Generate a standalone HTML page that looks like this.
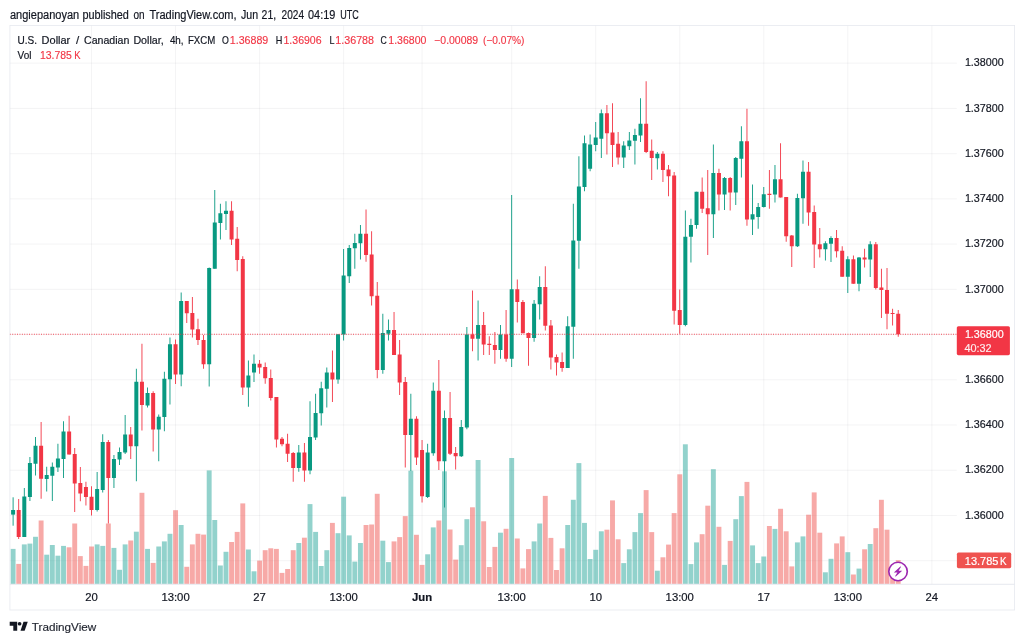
<!DOCTYPE html>
<html lang="en"><head><meta charset="utf-8"><title>USDCAD 4h - TradingView</title>
<style>html,body{margin:0;padding:0;background:#fff}body{width:1024px;height:643px;overflow:hidden}svg{display:block;filter:blur(0.35px)}text{font-family:'Liberation Sans', Arial, sans-serif}</style>
</head><body>
<svg width="1024" height="643" viewBox="0 0 1024 643">
<rect width="1024" height="643" fill="#fff"/>
<g stroke="#2a2e39" stroke-opacity="0.06" stroke-width="0.9">
<line x1="9.9" y1="63.20" x2="956.8" y2="63.20"/>
<line x1="9.9" y1="108.43" x2="956.8" y2="108.43"/>
<line x1="9.9" y1="153.66" x2="956.8" y2="153.66"/>
<line x1="9.9" y1="198.89" x2="956.8" y2="198.89"/>
<line x1="9.9" y1="244.12" x2="956.8" y2="244.12"/>
<line x1="9.9" y1="289.35" x2="956.8" y2="289.35"/>
<line x1="9.9" y1="334.58" x2="956.8" y2="334.58"/>
<line x1="9.9" y1="379.81" x2="956.8" y2="379.81"/>
<line x1="9.9" y1="425.04" x2="956.8" y2="425.04"/>
<line x1="9.9" y1="470.27" x2="956.8" y2="470.27"/>
<line x1="9.9" y1="515.50" x2="956.8" y2="515.50"/>
<line x1="9.9" y1="560.73" x2="956.8" y2="560.73"/>
<line x1="91.53" y1="25.5" x2="91.53" y2="584.3"/>
<line x1="175.56" y1="25.5" x2="175.56" y2="584.3"/>
<line x1="259.59" y1="25.5" x2="259.59" y2="584.3"/>
<line x1="343.62" y1="25.5" x2="343.62" y2="584.3"/>
<line x1="422.05" y1="25.5" x2="422.05" y2="584.3"/>
<line x1="511.68" y1="25.5" x2="511.68" y2="584.3"/>
<line x1="595.71" y1="25.5" x2="595.71" y2="584.3"/>
<line x1="679.74" y1="25.5" x2="679.74" y2="584.3"/>
<line x1="763.77" y1="25.5" x2="763.77" y2="584.3"/>
<line x1="847.80" y1="25.5" x2="847.80" y2="584.3"/>
<line x1="931.83" y1="25.5" x2="931.83" y2="584.3"/>
</g>
<g id="candles">
<rect x="12.65" y="497.30" width="0.9" height="28.40" fill="#089981"/>
<rect x="11.10" y="510.00" width="4.0" height="4.60" fill="#089981"/>
<rect x="18.25" y="499.00" width="0.9" height="40.00" fill="#f23645"/>
<rect x="16.70" y="510.00" width="4.0" height="27.00" fill="#f23645"/>
<rect x="23.85" y="488.00" width="0.9" height="49.00" fill="#089981"/>
<rect x="22.30" y="496.50" width="4.0" height="40.50" fill="#089981"/>
<rect x="29.46" y="457.00" width="0.9" height="44.00" fill="#089981"/>
<rect x="27.91" y="463.00" width="4.0" height="34.00" fill="#089981"/>
<rect x="35.06" y="437.00" width="0.9" height="38.50" fill="#089981"/>
<rect x="33.51" y="445.75" width="4.0" height="18.00" fill="#089981"/>
<rect x="40.66" y="422.00" width="0.9" height="76.75" fill="#f23645"/>
<rect x="39.11" y="445.75" width="4.0" height="33.00" fill="#f23645"/>
<rect x="46.26" y="466.75" width="0.9" height="24.75" fill="#089981"/>
<rect x="44.71" y="475.00" width="4.0" height="4.00" fill="#089981"/>
<rect x="51.86" y="462.50" width="0.9" height="38.50" fill="#089981"/>
<rect x="50.31" y="466.75" width="4.0" height="9.00" fill="#089981"/>
<rect x="57.47" y="443.75" width="0.9" height="28.25" fill="#089981"/>
<rect x="55.92" y="458.50" width="4.0" height="9.00" fill="#089981"/>
<rect x="63.07" y="421.25" width="0.9" height="56.75" fill="#089981"/>
<rect x="61.52" y="431.50" width="4.0" height="27.50" fill="#089981"/>
<rect x="68.67" y="415.75" width="0.9" height="38.75" fill="#f23645"/>
<rect x="67.12" y="431.50" width="4.0" height="23.00" fill="#f23645"/>
<rect x="74.27" y="448.00" width="0.9" height="64.00" fill="#f23645"/>
<rect x="72.72" y="454.00" width="4.0" height="29.50" fill="#f23645"/>
<rect x="79.87" y="467.00" width="0.9" height="34.25" fill="#f23645"/>
<rect x="78.32" y="483.00" width="4.0" height="10.50" fill="#f23645"/>
<rect x="85.48" y="481.75" width="0.9" height="23.75" fill="#f23645"/>
<rect x="83.93" y="487.00" width="4.0" height="10.00" fill="#f23645"/>
<rect x="91.08" y="486.25" width="0.9" height="29.25" fill="#f23645"/>
<rect x="89.53" y="496.75" width="4.0" height="13.25" fill="#f23645"/>
<rect x="96.68" y="472.00" width="0.9" height="39.50" fill="#089981"/>
<rect x="95.13" y="489.00" width="4.0" height="21.00" fill="#089981"/>
<rect x="102.28" y="434.25" width="0.9" height="58.25" fill="#089981"/>
<rect x="100.73" y="442.00" width="4.0" height="48.00" fill="#089981"/>
<rect x="107.88" y="440.00" width="0.9" height="83.50" fill="#f23645"/>
<rect x="106.33" y="442.00" width="4.0" height="36.00" fill="#f23645"/>
<rect x="113.49" y="455.00" width="0.9" height="33.00" fill="#089981"/>
<rect x="111.94" y="459.00" width="4.0" height="19.00" fill="#089981"/>
<rect x="119.09" y="447.50" width="0.9" height="17.50" fill="#089981"/>
<rect x="117.54" y="452.00" width="4.0" height="7.50" fill="#089981"/>
<rect x="124.69" y="415.00" width="0.9" height="39.00" fill="#089981"/>
<rect x="123.14" y="434.50" width="4.0" height="18.00" fill="#089981"/>
<rect x="130.29" y="427.00" width="0.9" height="32.00" fill="#f23645"/>
<rect x="128.74" y="434.50" width="4.0" height="11.75" fill="#f23645"/>
<rect x="135.89" y="368.75" width="0.9" height="112.50" fill="#089981"/>
<rect x="134.34" y="381.75" width="4.0" height="64.50" fill="#089981"/>
<rect x="141.50" y="343.75" width="0.9" height="86.75" fill="#f23645"/>
<rect x="139.95" y="381.75" width="4.0" height="23.25" fill="#f23645"/>
<rect x="147.10" y="387.50" width="0.9" height="20.00" fill="#089981"/>
<rect x="145.55" y="393.00" width="4.0" height="12.50" fill="#089981"/>
<rect x="152.70" y="391.25" width="0.9" height="60.25" fill="#f23645"/>
<rect x="151.15" y="393.00" width="4.0" height="36.50" fill="#f23645"/>
<rect x="158.30" y="414.50" width="0.9" height="46.75" fill="#089981"/>
<rect x="156.75" y="416.75" width="4.0" height="12.75" fill="#089981"/>
<rect x="163.90" y="371.75" width="0.9" height="59.50" fill="#089981"/>
<rect x="162.35" y="378.75" width="4.0" height="38.25" fill="#089981"/>
<rect x="169.51" y="337.50" width="0.9" height="67.00" fill="#089981"/>
<rect x="167.96" y="344.25" width="4.0" height="35.00" fill="#089981"/>
<rect x="175.11" y="339.50" width="0.9" height="44.50" fill="#f23645"/>
<rect x="173.56" y="344.25" width="4.0" height="30.25" fill="#f23645"/>
<rect x="180.71" y="292.50" width="0.9" height="93.75" fill="#089981"/>
<rect x="179.16" y="301.00" width="4.0" height="73.50" fill="#089981"/>
<rect x="186.31" y="301.00" width="0.9" height="22.00" fill="#f23645"/>
<rect x="184.76" y="301.00" width="4.0" height="12.25" fill="#f23645"/>
<rect x="191.91" y="297.00" width="0.9" height="40.50" fill="#f23645"/>
<rect x="190.36" y="313.00" width="4.0" height="16.50" fill="#f23645"/>
<rect x="197.52" y="318.75" width="0.9" height="26.25" fill="#f23645"/>
<rect x="195.97" y="329.25" width="4.0" height="10.75" fill="#f23645"/>
<rect x="203.12" y="335.00" width="0.9" height="33.75" fill="#f23645"/>
<rect x="201.57" y="340.00" width="4.0" height="24.25" fill="#f23645"/>
<rect x="208.72" y="267.50" width="0.9" height="119.00" fill="#089981"/>
<rect x="207.17" y="268.00" width="4.0" height="96.25" fill="#089981"/>
<rect x="214.32" y="190.00" width="0.9" height="78.75" fill="#089981"/>
<rect x="212.77" y="222.50" width="4.0" height="46.25" fill="#089981"/>
<rect x="219.92" y="203.75" width="0.9" height="35.75" fill="#089981"/>
<rect x="218.37" y="213.25" width="4.0" height="9.75" fill="#089981"/>
<rect x="225.53" y="201.25" width="0.9" height="28.75" fill="#089981"/>
<rect x="223.98" y="210.75" width="4.0" height="3.25" fill="#089981"/>
<rect x="231.13" y="201.25" width="0.9" height="43.75" fill="#f23645"/>
<rect x="229.58" y="210.75" width="4.0" height="28.75" fill="#f23645"/>
<rect x="236.73" y="227.00" width="0.9" height="44.25" fill="#f23645"/>
<rect x="235.18" y="238.75" width="4.0" height="21.25" fill="#f23645"/>
<rect x="242.33" y="256.25" width="0.9" height="138.75" fill="#f23645"/>
<rect x="240.78" y="259.00" width="4.0" height="128.50" fill="#f23645"/>
<rect x="247.93" y="360.50" width="0.9" height="46.25" fill="#089981"/>
<rect x="246.38" y="375.50" width="4.0" height="12.00" fill="#089981"/>
<rect x="253.54" y="354.50" width="0.9" height="27.50" fill="#089981"/>
<rect x="251.99" y="363.75" width="4.0" height="8.75" fill="#089981"/>
<rect x="259.14" y="360.00" width="0.9" height="13.75" fill="#f23645"/>
<rect x="257.59" y="363.75" width="4.0" height="3.75" fill="#f23645"/>
<rect x="264.74" y="362.50" width="0.9" height="21.25" fill="#f23645"/>
<rect x="263.19" y="367.00" width="4.0" height="11.25" fill="#f23645"/>
<rect x="270.34" y="369.50" width="0.9" height="31.00" fill="#f23645"/>
<rect x="268.79" y="378.00" width="4.0" height="20.00" fill="#f23645"/>
<rect x="275.94" y="397.00" width="0.9" height="50.50" fill="#f23645"/>
<rect x="274.39" y="397.00" width="4.0" height="42.50" fill="#f23645"/>
<rect x="281.55" y="437.00" width="0.9" height="9.25" fill="#f23645"/>
<rect x="280.00" y="438.75" width="4.0" height="5.50" fill="#f23645"/>
<rect x="287.15" y="433.75" width="0.9" height="28.25" fill="#f23645"/>
<rect x="285.60" y="443.75" width="4.0" height="10.00" fill="#f23645"/>
<rect x="292.75" y="452.00" width="0.9" height="29.75" fill="#f23645"/>
<rect x="291.20" y="453.00" width="4.0" height="15.00" fill="#f23645"/>
<rect x="298.35" y="445.00" width="0.9" height="26.75" fill="#089981"/>
<rect x="296.80" y="452.50" width="4.0" height="15.50" fill="#089981"/>
<rect x="303.95" y="443.00" width="0.9" height="38.75" fill="#f23645"/>
<rect x="302.40" y="452.50" width="4.0" height="18.00" fill="#f23645"/>
<rect x="309.56" y="401.25" width="0.9" height="73.00" fill="#089981"/>
<rect x="308.01" y="437.00" width="4.0" height="33.50" fill="#089981"/>
<rect x="315.16" y="393.75" width="0.9" height="46.25" fill="#089981"/>
<rect x="313.61" y="413.00" width="4.0" height="24.50" fill="#089981"/>
<rect x="320.76" y="381.75" width="0.9" height="43.75" fill="#089981"/>
<rect x="319.21" y="388.25" width="4.0" height="25.00" fill="#089981"/>
<rect x="326.36" y="367.50" width="0.9" height="40.00" fill="#089981"/>
<rect x="324.81" y="372.50" width="4.0" height="16.25" fill="#089981"/>
<rect x="331.96" y="350.50" width="0.9" height="51.50" fill="#f23645"/>
<rect x="330.41" y="372.50" width="4.0" height="7.00" fill="#f23645"/>
<rect x="337.57" y="334.25" width="0.9" height="49.50" fill="#089981"/>
<rect x="336.02" y="334.25" width="4.0" height="45.25" fill="#089981"/>
<rect x="343.17" y="249.00" width="0.9" height="91.50" fill="#089981"/>
<rect x="341.62" y="275.50" width="4.0" height="59.00" fill="#089981"/>
<rect x="348.77" y="245.00" width="0.9" height="38.00" fill="#089981"/>
<rect x="347.22" y="248.00" width="4.0" height="28.25" fill="#089981"/>
<rect x="354.37" y="233.75" width="0.9" height="35.00" fill="#089981"/>
<rect x="352.82" y="243.00" width="4.0" height="5.25" fill="#089981"/>
<rect x="359.97" y="225.00" width="0.9" height="34.50" fill="#089981"/>
<rect x="358.42" y="233.75" width="4.0" height="9.50" fill="#089981"/>
<rect x="365.58" y="209.50" width="0.9" height="52.25" fill="#f23645"/>
<rect x="364.03" y="233.75" width="4.0" height="21.25" fill="#f23645"/>
<rect x="371.18" y="231.25" width="0.9" height="74.25" fill="#f23645"/>
<rect x="369.63" y="254.50" width="4.0" height="41.75" fill="#f23645"/>
<rect x="376.78" y="282.00" width="0.9" height="96.25" fill="#f23645"/>
<rect x="375.23" y="295.75" width="4.0" height="74.25" fill="#f23645"/>
<rect x="382.38" y="313.75" width="0.9" height="60.00" fill="#089981"/>
<rect x="380.83" y="333.00" width="4.0" height="37.00" fill="#089981"/>
<rect x="387.98" y="319.50" width="0.9" height="21.00" fill="#089981"/>
<rect x="386.43" y="330.00" width="4.0" height="3.75" fill="#089981"/>
<rect x="393.59" y="312.00" width="0.9" height="43.00" fill="#f23645"/>
<rect x="392.04" y="330.00" width="4.0" height="25.00" fill="#f23645"/>
<rect x="399.19" y="340.00" width="0.9" height="55.00" fill="#f23645"/>
<rect x="397.64" y="354.50" width="4.0" height="28.00" fill="#f23645"/>
<rect x="404.79" y="377.00" width="0.9" height="90.50" fill="#f23645"/>
<rect x="403.24" y="382.00" width="4.0" height="53.00" fill="#f23645"/>
<rect x="410.39" y="393.75" width="0.9" height="77.25" fill="#089981"/>
<rect x="408.84" y="418.75" width="4.0" height="16.25" fill="#089981"/>
<rect x="415.99" y="416.25" width="0.9" height="48.75" fill="#f23645"/>
<rect x="414.44" y="418.75" width="4.0" height="38.75" fill="#f23645"/>
<rect x="421.60" y="440.00" width="0.9" height="62.50" fill="#f23645"/>
<rect x="420.05" y="450.00" width="4.0" height="46.25" fill="#f23645"/>
<rect x="427.20" y="443.75" width="0.9" height="54.25" fill="#089981"/>
<rect x="425.65" y="452.50" width="4.0" height="44.50" fill="#089981"/>
<rect x="432.80" y="382.50" width="0.9" height="73.25" fill="#089981"/>
<rect x="431.25" y="390.75" width="4.0" height="62.50" fill="#089981"/>
<rect x="438.40" y="360.00" width="0.9" height="110.00" fill="#f23645"/>
<rect x="436.85" y="390.75" width="4.0" height="70.50" fill="#f23645"/>
<rect x="444.00" y="410.50" width="0.9" height="97.00" fill="#089981"/>
<rect x="442.45" y="418.00" width="4.0" height="43.25" fill="#089981"/>
<rect x="449.61" y="392.00" width="0.9" height="63.00" fill="#f23645"/>
<rect x="448.06" y="418.00" width="4.0" height="35.75" fill="#f23645"/>
<rect x="455.21" y="447.00" width="0.9" height="22.50" fill="#f23645"/>
<rect x="453.66" y="453.00" width="4.0" height="3.25" fill="#f23645"/>
<rect x="460.81" y="420.00" width="0.9" height="37.00" fill="#089981"/>
<rect x="459.26" y="427.00" width="4.0" height="29.25" fill="#089981"/>
<rect x="466.41" y="327.00" width="0.9" height="102.25" fill="#089981"/>
<rect x="464.86" y="334.50" width="4.0" height="93.00" fill="#089981"/>
<rect x="472.01" y="290.50" width="0.9" height="60.75" fill="#f23645"/>
<rect x="470.46" y="334.50" width="4.0" height="4.25" fill="#f23645"/>
<rect x="477.62" y="300.50" width="0.9" height="60.00" fill="#089981"/>
<rect x="476.07" y="325.00" width="4.0" height="13.75" fill="#089981"/>
<rect x="483.22" y="312.00" width="0.9" height="43.00" fill="#f23645"/>
<rect x="481.67" y="325.00" width="4.0" height="19.50" fill="#f23645"/>
<rect x="488.82" y="336.25" width="0.9" height="18.75" fill="#f23645"/>
<rect x="487.27" y="343.75" width="4.0" height="1.25" fill="#f23645"/>
<rect x="494.42" y="332.00" width="0.9" height="31.75" fill="#f23645"/>
<rect x="492.87" y="345.00" width="4.0" height="5.00" fill="#f23645"/>
<rect x="500.02" y="325.00" width="0.9" height="33.75" fill="#089981"/>
<rect x="498.47" y="334.50" width="4.0" height="15.50" fill="#089981"/>
<rect x="505.63" y="310.00" width="0.9" height="51.75" fill="#f23645"/>
<rect x="504.08" y="334.50" width="4.0" height="24.25" fill="#f23645"/>
<rect x="511.23" y="195.00" width="0.9" height="172.00" fill="#089981"/>
<rect x="509.68" y="289.25" width="4.0" height="69.50" fill="#089981"/>
<rect x="516.83" y="279.50" width="0.9" height="43.00" fill="#f23645"/>
<rect x="515.28" y="289.25" width="4.0" height="12.75" fill="#f23645"/>
<rect x="522.43" y="300.00" width="0.9" height="33.25" fill="#f23645"/>
<rect x="520.88" y="302.00" width="4.0" height="31.25" fill="#f23645"/>
<rect x="528.03" y="332.50" width="0.9" height="33.25" fill="#f23645"/>
<rect x="526.48" y="333.00" width="4.0" height="5.00" fill="#f23645"/>
<rect x="533.64" y="300.00" width="0.9" height="41.75" fill="#089981"/>
<rect x="532.09" y="303.75" width="4.0" height="34.25" fill="#089981"/>
<rect x="539.24" y="276.25" width="0.9" height="43.25" fill="#089981"/>
<rect x="537.69" y="287.00" width="4.0" height="17.25" fill="#089981"/>
<rect x="544.84" y="266.25" width="0.9" height="64.25" fill="#f23645"/>
<rect x="543.29" y="287.00" width="4.0" height="38.75" fill="#f23645"/>
<rect x="550.44" y="320.00" width="0.9" height="49.50" fill="#f23645"/>
<rect x="548.89" y="325.50" width="4.0" height="32.00" fill="#f23645"/>
<rect x="556.04" y="354.50" width="0.9" height="21.00" fill="#f23645"/>
<rect x="554.49" y="357.00" width="4.0" height="5.50" fill="#f23645"/>
<rect x="561.65" y="352.50" width="0.9" height="19.25" fill="#f23645"/>
<rect x="560.10" y="362.00" width="4.0" height="6.00" fill="#f23645"/>
<rect x="567.25" y="316.25" width="0.9" height="51.75" fill="#089981"/>
<rect x="565.70" y="326.25" width="4.0" height="41.75" fill="#089981"/>
<rect x="572.85" y="203.75" width="0.9" height="155.00" fill="#089981"/>
<rect x="571.30" y="240.50" width="4.0" height="86.25" fill="#089981"/>
<rect x="578.45" y="156.25" width="0.9" height="112.50" fill="#089981"/>
<rect x="576.90" y="186.50" width="4.0" height="54.25" fill="#089981"/>
<rect x="584.05" y="135.50" width="0.9" height="55.75" fill="#089981"/>
<rect x="582.50" y="143.25" width="4.0" height="43.75" fill="#089981"/>
<rect x="589.66" y="134.50" width="0.9" height="36.75" fill="#089981"/>
<rect x="588.11" y="144.50" width="4.0" height="24.25" fill="#089981"/>
<rect x="595.26" y="122.00" width="0.9" height="29.25" fill="#089981"/>
<rect x="593.71" y="137.50" width="4.0" height="7.50" fill="#089981"/>
<rect x="600.86" y="109.50" width="0.9" height="48.50" fill="#089981"/>
<rect x="599.31" y="113.25" width="4.0" height="25.50" fill="#089981"/>
<rect x="606.46" y="105.00" width="0.9" height="49.50" fill="#f23645"/>
<rect x="604.91" y="113.25" width="4.0" height="20.00" fill="#f23645"/>
<rect x="612.06" y="103.25" width="0.9" height="63.75" fill="#f23645"/>
<rect x="610.51" y="132.50" width="4.0" height="12.50" fill="#f23645"/>
<rect x="617.67" y="132.00" width="0.9" height="32.50" fill="#f23645"/>
<rect x="616.12" y="143.75" width="4.0" height="13.75" fill="#f23645"/>
<rect x="623.27" y="141.25" width="0.9" height="26.75" fill="#089981"/>
<rect x="621.72" y="145.50" width="4.0" height="12.00" fill="#089981"/>
<rect x="628.87" y="132.00" width="0.9" height="18.00" fill="#089981"/>
<rect x="627.32" y="140.50" width="4.0" height="5.75" fill="#089981"/>
<rect x="634.47" y="128.75" width="0.9" height="35.75" fill="#089981"/>
<rect x="632.92" y="135.00" width="4.0" height="5.75" fill="#089981"/>
<rect x="640.07" y="98.25" width="0.9" height="43.75" fill="#089981"/>
<rect x="638.52" y="123.75" width="4.0" height="11.75" fill="#089981"/>
<rect x="645.68" y="81.25" width="0.9" height="71.75" fill="#f23645"/>
<rect x="644.13" y="123.75" width="4.0" height="28.25" fill="#f23645"/>
<rect x="651.28" y="139.50" width="0.9" height="40.50" fill="#f23645"/>
<rect x="649.73" y="150.75" width="4.0" height="7.25" fill="#f23645"/>
<rect x="656.88" y="152.00" width="0.9" height="17.50" fill="#089981"/>
<rect x="655.33" y="153.75" width="4.0" height="4.50" fill="#089981"/>
<rect x="662.48" y="151.25" width="0.9" height="30.75" fill="#f23645"/>
<rect x="660.93" y="153.75" width="4.0" height="16.25" fill="#f23645"/>
<rect x="668.08" y="165.00" width="0.9" height="31.25" fill="#f23645"/>
<rect x="666.53" y="169.50" width="4.0" height="6.75" fill="#f23645"/>
<rect x="673.69" y="172.00" width="0.9" height="152.50" fill="#f23645"/>
<rect x="672.14" y="175.50" width="4.0" height="135.25" fill="#f23645"/>
<rect x="679.29" y="289.50" width="0.9" height="44.25" fill="#f23645"/>
<rect x="677.74" y="310.00" width="4.0" height="15.00" fill="#f23645"/>
<rect x="684.89" y="210.50" width="0.9" height="115.75" fill="#089981"/>
<rect x="683.34" y="236.75" width="4.0" height="88.25" fill="#089981"/>
<rect x="690.49" y="218.75" width="0.9" height="43.75" fill="#089981"/>
<rect x="688.94" y="225.00" width="4.0" height="11.75" fill="#089981"/>
<rect x="696.09" y="191.75" width="0.9" height="37.00" fill="#089981"/>
<rect x="694.54" y="191.75" width="4.0" height="33.25" fill="#089981"/>
<rect x="701.70" y="177.50" width="0.9" height="35.50" fill="#f23645"/>
<rect x="700.15" y="191.75" width="4.0" height="17.00" fill="#f23645"/>
<rect x="707.30" y="170.00" width="0.9" height="85.00" fill="#f23645"/>
<rect x="705.75" y="208.25" width="4.0" height="6.00" fill="#f23645"/>
<rect x="712.90" y="144.50" width="0.9" height="93.50" fill="#089981"/>
<rect x="711.35" y="173.00" width="4.0" height="41.25" fill="#089981"/>
<rect x="718.50" y="168.75" width="0.9" height="41.75" fill="#f23645"/>
<rect x="716.95" y="173.00" width="4.0" height="21.50" fill="#f23645"/>
<rect x="724.10" y="177.00" width="0.9" height="33.00" fill="#089981"/>
<rect x="722.55" y="178.00" width="4.0" height="16.50" fill="#089981"/>
<rect x="729.71" y="177.00" width="0.9" height="33.50" fill="#f23645"/>
<rect x="728.16" y="178.00" width="4.0" height="14.50" fill="#f23645"/>
<rect x="735.31" y="157.00" width="0.9" height="48.00" fill="#089981"/>
<rect x="733.76" y="158.00" width="4.0" height="34.50" fill="#089981"/>
<rect x="740.91" y="126.25" width="0.9" height="51.25" fill="#089981"/>
<rect x="739.36" y="141.25" width="4.0" height="17.50" fill="#089981"/>
<rect x="746.51" y="108.75" width="0.9" height="117.00" fill="#f23645"/>
<rect x="744.96" y="141.25" width="4.0" height="78.25" fill="#f23645"/>
<rect x="752.11" y="184.50" width="0.9" height="50.50" fill="#089981"/>
<rect x="750.56" y="214.25" width="4.0" height="5.25" fill="#089981"/>
<rect x="757.72" y="203.00" width="0.9" height="25.75" fill="#089981"/>
<rect x="756.17" y="207.00" width="4.0" height="10.00" fill="#089981"/>
<rect x="763.32" y="187.00" width="0.9" height="20.50" fill="#089981"/>
<rect x="761.77" y="194.25" width="4.0" height="12.75" fill="#089981"/>
<rect x="768.92" y="170.00" width="0.9" height="38.75" fill="#f23645"/>
<rect x="767.37" y="193.75" width="4.0" height="1.25" fill="#f23645"/>
<rect x="774.52" y="165.00" width="0.9" height="37.50" fill="#089981"/>
<rect x="772.97" y="179.25" width="4.0" height="15.25" fill="#089981"/>
<rect x="780.12" y="143.25" width="0.9" height="54.25" fill="#f23645"/>
<rect x="778.57" y="179.25" width="4.0" height="18.25" fill="#f23645"/>
<rect x="785.73" y="197.00" width="0.9" height="44.75" fill="#f23645"/>
<rect x="784.18" y="197.00" width="4.0" height="39.25" fill="#f23645"/>
<rect x="791.33" y="235.00" width="0.9" height="32.00" fill="#f23645"/>
<rect x="789.78" y="235.50" width="4.0" height="10.75" fill="#f23645"/>
<rect x="796.93" y="193.75" width="0.9" height="53.25" fill="#089981"/>
<rect x="795.38" y="198.00" width="4.0" height="48.25" fill="#089981"/>
<rect x="802.53" y="160.50" width="0.9" height="63.25" fill="#089981"/>
<rect x="800.98" y="171.75" width="4.0" height="26.50" fill="#089981"/>
<rect x="808.13" y="162.00" width="0.9" height="63.75" fill="#f23645"/>
<rect x="806.58" y="171.75" width="4.0" height="40.75" fill="#f23645"/>
<rect x="813.74" y="205.50" width="0.9" height="62.50" fill="#f23645"/>
<rect x="812.19" y="212.00" width="4.0" height="32.50" fill="#f23645"/>
<rect x="819.34" y="228.00" width="0.9" height="29.50" fill="#f23645"/>
<rect x="817.79" y="244.25" width="4.0" height="5.00" fill="#f23645"/>
<rect x="824.94" y="241.25" width="0.9" height="19.25" fill="#089981"/>
<rect x="823.39" y="243.25" width="4.0" height="6.00" fill="#089981"/>
<rect x="830.54" y="236.25" width="0.9" height="25.75" fill="#089981"/>
<rect x="828.99" y="238.00" width="4.0" height="5.75" fill="#089981"/>
<rect x="836.14" y="230.00" width="0.9" height="27.50" fill="#f23645"/>
<rect x="834.59" y="238.00" width="4.0" height="13.25" fill="#f23645"/>
<rect x="841.75" y="246.25" width="0.9" height="30.50" fill="#f23645"/>
<rect x="840.20" y="250.75" width="4.0" height="26.00" fill="#f23645"/>
<rect x="847.35" y="256.25" width="0.9" height="36.75" fill="#089981"/>
<rect x="845.80" y="259.25" width="4.0" height="17.50" fill="#089981"/>
<rect x="852.95" y="255.50" width="0.9" height="28.25" fill="#f23645"/>
<rect x="851.40" y="259.25" width="4.0" height="24.50" fill="#f23645"/>
<rect x="858.55" y="257.00" width="0.9" height="34.25" fill="#089981"/>
<rect x="857.00" y="257.50" width="4.0" height="26.25" fill="#089981"/>
<rect x="864.15" y="248.75" width="0.9" height="18.75" fill="#f23645"/>
<rect x="862.60" y="257.50" width="4.0" height="2.00" fill="#f23645"/>
<rect x="869.76" y="241.25" width="0.9" height="35.75" fill="#089981"/>
<rect x="868.21" y="244.25" width="4.0" height="15.25" fill="#089981"/>
<rect x="875.36" y="242.00" width="0.9" height="47.50" fill="#f23645"/>
<rect x="873.81" y="244.25" width="4.0" height="43.75" fill="#f23645"/>
<rect x="880.96" y="268.75" width="0.9" height="49.25" fill="#f23645"/>
<rect x="879.41" y="287.50" width="4.0" height="2.50" fill="#f23645"/>
<rect x="886.56" y="268.00" width="0.9" height="61.25" fill="#f23645"/>
<rect x="885.01" y="290.00" width="4.0" height="23.75" fill="#f23645"/>
<rect x="892.16" y="308.75" width="0.9" height="16.75" fill="#f23645"/>
<rect x="890.61" y="313.00" width="4.0" height="1.00" fill="#f23645"/>
<rect x="897.77" y="310.00" width="0.9" height="26.75" fill="#f23645"/>
<rect x="896.22" y="313.75" width="4.0" height="20.50" fill="#f23645"/>
</g>
<g id="volume" fill-opacity="0.5">
<rect x="10.65" y="548.90" width="4.9" height="35.00" fill="#26a69a"/>
<rect x="16.25" y="563.90" width="4.9" height="20.00" fill="#ef5350"/>
<rect x="21.85" y="544.40" width="4.9" height="39.50" fill="#26a69a"/>
<rect x="27.46" y="543.60" width="4.9" height="40.30" fill="#26a69a"/>
<rect x="33.06" y="536.80" width="4.9" height="47.10" fill="#26a69a"/>
<rect x="38.66" y="520.50" width="4.9" height="63.40" fill="#ef5350"/>
<rect x="44.26" y="554.70" width="4.9" height="29.20" fill="#26a69a"/>
<rect x="49.86" y="545.00" width="4.9" height="38.90" fill="#26a69a"/>
<rect x="55.47" y="555.70" width="4.9" height="28.20" fill="#26a69a"/>
<rect x="61.07" y="545.90" width="4.9" height="38.00" fill="#26a69a"/>
<rect x="66.67" y="547.30" width="4.9" height="36.60" fill="#ef5350"/>
<rect x="72.27" y="523.50" width="4.9" height="60.40" fill="#ef5350"/>
<rect x="77.87" y="556.10" width="4.9" height="27.80" fill="#ef5350"/>
<rect x="83.48" y="565.90" width="4.9" height="18.00" fill="#ef5350"/>
<rect x="89.08" y="546.50" width="4.9" height="37.40" fill="#ef5350"/>
<rect x="94.68" y="544.40" width="4.9" height="39.50" fill="#26a69a"/>
<rect x="100.28" y="545.90" width="4.9" height="38.00" fill="#26a69a"/>
<rect x="105.88" y="523.50" width="4.9" height="60.40" fill="#ef5350"/>
<rect x="111.49" y="547.90" width="4.9" height="36.00" fill="#26a69a"/>
<rect x="117.09" y="569.80" width="4.9" height="14.10" fill="#26a69a"/>
<rect x="122.69" y="544.40" width="4.9" height="39.50" fill="#26a69a"/>
<rect x="128.29" y="540.50" width="4.9" height="43.40" fill="#ef5350"/>
<rect x="133.89" y="531.70" width="4.9" height="52.20" fill="#26a69a"/>
<rect x="139.50" y="492.80" width="4.9" height="91.10" fill="#ef5350"/>
<rect x="145.10" y="548.90" width="4.9" height="35.00" fill="#26a69a"/>
<rect x="150.70" y="562.90" width="4.9" height="21.00" fill="#ef5350"/>
<rect x="156.30" y="546.50" width="4.9" height="37.40" fill="#26a69a"/>
<rect x="161.90" y="541.40" width="4.9" height="42.50" fill="#26a69a"/>
<rect x="167.51" y="533.80" width="4.9" height="50.10" fill="#26a69a"/>
<rect x="173.11" y="510.20" width="4.9" height="73.70" fill="#ef5350"/>
<rect x="178.71" y="525.00" width="4.9" height="58.90" fill="#26a69a"/>
<rect x="184.31" y="566.80" width="4.9" height="17.10" fill="#ef5350"/>
<rect x="189.91" y="544.40" width="4.9" height="39.50" fill="#ef5350"/>
<rect x="195.52" y="533.80" width="4.9" height="50.10" fill="#ef5350"/>
<rect x="201.12" y="534.60" width="4.9" height="49.30" fill="#ef5350"/>
<rect x="206.72" y="470.40" width="4.9" height="113.50" fill="#26a69a"/>
<rect x="212.32" y="520.00" width="4.9" height="63.90" fill="#26a69a"/>
<rect x="217.92" y="565.50" width="4.9" height="18.40" fill="#26a69a"/>
<rect x="223.53" y="551.80" width="4.9" height="32.10" fill="#26a69a"/>
<rect x="229.13" y="542.00" width="4.9" height="41.90" fill="#ef5350"/>
<rect x="234.73" y="531.90" width="4.9" height="52.00" fill="#ef5350"/>
<rect x="240.33" y="503.40" width="4.9" height="80.50" fill="#ef5350"/>
<rect x="245.93" y="549.50" width="4.9" height="34.40" fill="#26a69a"/>
<rect x="251.54" y="571.30" width="4.9" height="12.60" fill="#26a69a"/>
<rect x="257.14" y="560.60" width="4.9" height="23.30" fill="#ef5350"/>
<rect x="262.74" y="550.20" width="4.9" height="33.70" fill="#ef5350"/>
<rect x="268.34" y="548.30" width="4.9" height="35.60" fill="#ef5350"/>
<rect x="273.94" y="548.90" width="4.9" height="35.00" fill="#ef5350"/>
<rect x="279.55" y="572.90" width="4.9" height="11.00" fill="#ef5350"/>
<rect x="285.15" y="569.00" width="4.9" height="14.90" fill="#ef5350"/>
<rect x="290.75" y="550.20" width="4.9" height="33.70" fill="#ef5350"/>
<rect x="296.35" y="543.00" width="4.9" height="40.90" fill="#26a69a"/>
<rect x="301.95" y="537.70" width="4.9" height="46.20" fill="#ef5350"/>
<rect x="307.56" y="504.10" width="4.9" height="79.80" fill="#26a69a"/>
<rect x="313.16" y="531.90" width="4.9" height="52.00" fill="#26a69a"/>
<rect x="318.76" y="566.00" width="4.9" height="17.90" fill="#26a69a"/>
<rect x="324.36" y="550.20" width="4.9" height="33.70" fill="#26a69a"/>
<rect x="329.96" y="522.90" width="4.9" height="61.00" fill="#ef5350"/>
<rect x="335.57" y="533.20" width="4.9" height="50.70" fill="#26a69a"/>
<rect x="341.17" y="496.70" width="4.9" height="87.20" fill="#26a69a"/>
<rect x="346.77" y="535.40" width="4.9" height="48.50" fill="#26a69a"/>
<rect x="352.37" y="561.60" width="4.9" height="22.30" fill="#26a69a"/>
<rect x="357.97" y="543.00" width="4.9" height="40.90" fill="#26a69a"/>
<rect x="363.58" y="525.00" width="4.9" height="58.90" fill="#ef5350"/>
<rect x="369.18" y="524.50" width="4.9" height="59.40" fill="#ef5350"/>
<rect x="374.78" y="493.80" width="4.9" height="90.10" fill="#ef5350"/>
<rect x="380.38" y="540.70" width="4.9" height="43.20" fill="#26a69a"/>
<rect x="385.98" y="562.10" width="4.9" height="21.80" fill="#26a69a"/>
<rect x="391.59" y="541.40" width="4.9" height="42.50" fill="#ef5350"/>
<rect x="397.19" y="537.10" width="4.9" height="46.80" fill="#ef5350"/>
<rect x="402.79" y="516.10" width="4.9" height="67.80" fill="#ef5350"/>
<rect x="408.39" y="470.70" width="4.9" height="113.20" fill="#26a69a"/>
<rect x="413.99" y="534.80" width="4.9" height="49.10" fill="#ef5350"/>
<rect x="419.60" y="564.90" width="4.9" height="19.00" fill="#ef5350"/>
<rect x="425.20" y="554.30" width="4.9" height="29.60" fill="#26a69a"/>
<rect x="430.80" y="527.40" width="4.9" height="56.50" fill="#26a69a"/>
<rect x="436.40" y="520.50" width="4.9" height="63.40" fill="#ef5350"/>
<rect x="442.00" y="471.30" width="4.9" height="112.60" fill="#26a69a"/>
<rect x="447.61" y="529.50" width="4.9" height="54.40" fill="#ef5350"/>
<rect x="453.21" y="559.60" width="4.9" height="24.30" fill="#ef5350"/>
<rect x="458.81" y="545.20" width="4.9" height="38.70" fill="#26a69a"/>
<rect x="464.41" y="519.20" width="4.9" height="64.70" fill="#26a69a"/>
<rect x="470.01" y="507.30" width="4.9" height="76.60" fill="#ef5350"/>
<rect x="475.62" y="460.00" width="4.9" height="123.90" fill="#26a69a"/>
<rect x="481.22" y="521.30" width="4.9" height="62.60" fill="#ef5350"/>
<rect x="486.82" y="567.00" width="4.9" height="16.90" fill="#ef5350"/>
<rect x="492.42" y="546.90" width="4.9" height="37.00" fill="#ef5350"/>
<rect x="498.02" y="532.70" width="4.9" height="51.20" fill="#26a69a"/>
<rect x="503.63" y="528.80" width="4.9" height="55.10" fill="#ef5350"/>
<rect x="509.23" y="458.00" width="4.9" height="125.90" fill="#26a69a"/>
<rect x="514.83" y="538.50" width="4.9" height="45.40" fill="#ef5350"/>
<rect x="520.43" y="568.40" width="4.9" height="15.50" fill="#ef5350"/>
<rect x="526.03" y="549.10" width="4.9" height="34.80" fill="#ef5350"/>
<rect x="531.64" y="541.40" width="4.9" height="42.50" fill="#26a69a"/>
<rect x="537.24" y="523.50" width="4.9" height="60.40" fill="#26a69a"/>
<rect x="542.84" y="495.90" width="4.9" height="88.00" fill="#ef5350"/>
<rect x="548.44" y="537.90" width="4.9" height="46.00" fill="#ef5350"/>
<rect x="554.04" y="570.00" width="4.9" height="13.90" fill="#ef5350"/>
<rect x="559.65" y="548.30" width="4.9" height="35.60" fill="#ef5350"/>
<rect x="565.25" y="525.00" width="4.9" height="58.90" fill="#26a69a"/>
<rect x="570.85" y="499.80" width="4.9" height="84.10" fill="#26a69a"/>
<rect x="576.45" y="463.10" width="4.9" height="120.80" fill="#26a69a"/>
<rect x="582.05" y="522.90" width="4.9" height="61.00" fill="#26a69a"/>
<rect x="587.66" y="559.00" width="4.9" height="24.90" fill="#26a69a"/>
<rect x="593.26" y="549.80" width="4.9" height="34.10" fill="#26a69a"/>
<rect x="598.86" y="531.30" width="4.9" height="52.60" fill="#26a69a"/>
<rect x="604.46" y="529.70" width="4.9" height="54.20" fill="#ef5350"/>
<rect x="610.06" y="500.40" width="4.9" height="83.50" fill="#ef5350"/>
<rect x="615.67" y="539.30" width="4.9" height="44.60" fill="#ef5350"/>
<rect x="621.27" y="563.10" width="4.9" height="20.80" fill="#26a69a"/>
<rect x="626.87" y="549.30" width="4.9" height="34.60" fill="#26a69a"/>
<rect x="632.47" y="532.10" width="4.9" height="51.80" fill="#26a69a"/>
<rect x="638.07" y="513.10" width="4.9" height="70.80" fill="#26a69a"/>
<rect x="643.68" y="490.10" width="4.9" height="93.80" fill="#ef5350"/>
<rect x="649.28" y="532.10" width="4.9" height="51.80" fill="#ef5350"/>
<rect x="654.88" y="570.70" width="4.9" height="13.20" fill="#26a69a"/>
<rect x="660.48" y="557.30" width="4.9" height="26.60" fill="#ef5350"/>
<rect x="666.08" y="544.60" width="4.9" height="39.30" fill="#ef5350"/>
<rect x="671.69" y="513.10" width="4.9" height="70.80" fill="#ef5350"/>
<rect x="677.29" y="474.30" width="4.9" height="109.60" fill="#ef5350"/>
<rect x="682.89" y="444.30" width="4.9" height="139.60" fill="#26a69a"/>
<rect x="688.49" y="564.10" width="4.9" height="19.80" fill="#26a69a"/>
<rect x="694.09" y="542.40" width="4.9" height="41.50" fill="#26a69a"/>
<rect x="699.70" y="534.20" width="4.9" height="49.70" fill="#ef5350"/>
<rect x="705.30" y="505.70" width="4.9" height="78.20" fill="#ef5350"/>
<rect x="710.90" y="469.20" width="4.9" height="114.70" fill="#26a69a"/>
<rect x="716.50" y="526.80" width="4.9" height="57.10" fill="#ef5350"/>
<rect x="722.10" y="564.90" width="4.9" height="19.00" fill="#26a69a"/>
<rect x="727.71" y="540.90" width="4.9" height="43.00" fill="#ef5350"/>
<rect x="733.31" y="519.20" width="4.9" height="64.70" fill="#26a69a"/>
<rect x="738.91" y="496.10" width="4.9" height="87.80" fill="#26a69a"/>
<rect x="744.51" y="481.90" width="4.9" height="102.00" fill="#ef5350"/>
<rect x="750.11" y="545.40" width="4.9" height="38.50" fill="#26a69a"/>
<rect x="755.72" y="563.10" width="4.9" height="20.80" fill="#26a69a"/>
<rect x="761.32" y="556.50" width="4.9" height="27.40" fill="#26a69a"/>
<rect x="766.92" y="526.00" width="4.9" height="57.90" fill="#ef5350"/>
<rect x="772.52" y="528.90" width="4.9" height="55.00" fill="#26a69a"/>
<rect x="778.12" y="508.80" width="4.9" height="75.10" fill="#ef5350"/>
<rect x="783.73" y="531.30" width="4.9" height="52.60" fill="#ef5350"/>
<rect x="789.33" y="566.40" width="4.9" height="17.50" fill="#ef5350"/>
<rect x="794.93" y="542.40" width="4.9" height="41.50" fill="#26a69a"/>
<rect x="800.53" y="536.40" width="4.9" height="47.50" fill="#26a69a"/>
<rect x="806.13" y="514.70" width="4.9" height="69.20" fill="#ef5350"/>
<rect x="811.74" y="492.40" width="4.9" height="91.50" fill="#ef5350"/>
<rect x="817.34" y="532.70" width="4.9" height="51.20" fill="#ef5350"/>
<rect x="822.94" y="572.30" width="4.9" height="11.60" fill="#26a69a"/>
<rect x="828.54" y="558.80" width="4.9" height="25.10" fill="#26a69a"/>
<rect x="834.14" y="543.40" width="4.9" height="40.50" fill="#ef5350"/>
<rect x="839.75" y="536.40" width="4.9" height="47.50" fill="#ef5350"/>
<rect x="845.35" y="552.20" width="4.9" height="31.70" fill="#26a69a"/>
<rect x="850.95" y="574.50" width="4.9" height="9.40" fill="#ef5350"/>
<rect x="856.55" y="568.60" width="4.9" height="15.30" fill="#26a69a"/>
<rect x="862.15" y="549.30" width="4.9" height="34.60" fill="#ef5350"/>
<rect x="867.76" y="544.00" width="4.9" height="39.90" fill="#26a69a"/>
<rect x="873.36" y="528.20" width="4.9" height="55.70" fill="#ef5350"/>
<rect x="878.96" y="499.80" width="4.9" height="84.10" fill="#ef5350"/>
<rect x="884.56" y="529.70" width="4.9" height="54.20" fill="#ef5350"/>
<rect x="890.16" y="574.00" width="4.9" height="9.90" fill="#ef5350"/>
<rect x="895.77" y="560.20" width="4.9" height="23.70" fill="#ef5350"/>
</g>
<line x1="9.9" y1="334.25" x2="956.8" y2="334.25" stroke="#f23645" stroke-width="1" stroke-dasharray="0.9 1.5"/>
<line x1="9.9" y1="584.3" x2="1014.6" y2="584.3" stroke="#e0e3eb" stroke-width="0.8"/>
<rect x="9.9" y="25.5" width="1004.7" height="584.5" fill="none" stroke="#e0e3eb" stroke-width="0.8" stroke-opacity="0.8"/>
<g font-size="11.6" fill="#131722" stroke="#131722" stroke-width="0.2">
<text x="964.9" y="66.40" textLength="38.9" lengthAdjust="spacingAndGlyphs">1.38000</text>
<text x="964.9" y="111.63" textLength="38.9" lengthAdjust="spacingAndGlyphs">1.37800</text>
<text x="964.9" y="156.86" textLength="38.9" lengthAdjust="spacingAndGlyphs">1.37600</text>
<text x="964.9" y="202.09" textLength="38.9" lengthAdjust="spacingAndGlyphs">1.37400</text>
<text x="964.9" y="247.32" textLength="38.9" lengthAdjust="spacingAndGlyphs">1.37200</text>
<text x="964.9" y="292.55" textLength="38.9" lengthAdjust="spacingAndGlyphs">1.37000</text>
<text x="964.9" y="383.01" textLength="38.9" lengthAdjust="spacingAndGlyphs">1.36600</text>
<text x="964.9" y="428.24" textLength="38.9" lengthAdjust="spacingAndGlyphs">1.36400</text>
<text x="964.9" y="473.47" textLength="38.9" lengthAdjust="spacingAndGlyphs">1.36200</text>
<text x="964.9" y="518.70" textLength="38.9" lengthAdjust="spacingAndGlyphs">1.36000</text>
</g>
<g font-size="11.3" fill="#131722" stroke="#131722" stroke-width="0.2" text-anchor="middle">
<text x="91.53" y="601.2">20</text>
<text x="175.56" y="601.2">13:00</text>
<text x="259.59" y="601.2">27</text>
<text x="343.62" y="601.2">13:00</text>
<text x="422.05" y="601.2" font-weight="bold">Jun</text>
<text x="511.68" y="601.2">13:00</text>
<text x="595.71" y="601.2">10</text>
<text x="679.74" y="601.2">13:00</text>
<text x="763.77" y="601.2">17</text>
<text x="847.80" y="601.2">13:00</text>
<text x="931.83" y="601.2">24</text>
</g>
<rect x="956.8" y="326.2" width="53.1" height="29" rx="1.6" fill="#f23645"/>
<text x="964.9" y="338.2" font-size="11.6" fill="#fff" stroke="#fff" stroke-width="0.2" textLength="38.9" lengthAdjust="spacingAndGlyphs">1.36800</text>
<text x="964.4" y="351.7" font-size="11.3" fill="#fff" fill-opacity="0.88" stroke="#fff" stroke-width="0.15" textLength="27.2" lengthAdjust="spacingAndGlyphs">40:32</text>
<rect x="956.9" y="552.6" width="54.3" height="15.6" rx="1.6" fill="#ef5350"/>
<text x="964.8" y="564.7" font-size="11.3" fill="#fff" stroke="#fff" stroke-width="0.2" textLength="33.7" lengthAdjust="spacingAndGlyphs">13.785</text>
<text x="999.9" y="564.7" font-size="11.3" fill="#fff" stroke="#fff" stroke-width="0.2" textLength="6.6" lengthAdjust="spacingAndGlyphs">K</text>
<g transform="translate(898.05 571.5)"><circle r="9.25" fill="#fff" stroke="#9c27b0" stroke-width="1.65"/><polygon points="2.3,-5.0 3.0,-4.7 0.6,-0.8 4.2,-0.8 -2.3,5.1 -3.0,4.8 -0.6,0.9 -4.2,0.9" fill="#9c27b0"/></g>
<g font-size="12" fill="#131722" stroke="#131722" stroke-width="0.2">
<text x="9.9" y="18.8" textLength="69.3" lengthAdjust="spacingAndGlyphs">angiepanoyan</text>
<text x="82.4" y="18.8" textLength="46.5" lengthAdjust="spacingAndGlyphs">published</text>
<text x="133.4" y="18.8" textLength="11.1" lengthAdjust="spacingAndGlyphs">on</text>
<text x="149.4" y="18.8" textLength="87.2" lengthAdjust="spacingAndGlyphs">TradingView.com,</text>
<text x="241.0" y="18.8" textLength="17.1" lengthAdjust="spacingAndGlyphs">Jun</text>
<text x="261.6" y="18.8" textLength="14.5" lengthAdjust="spacingAndGlyphs">21,</text>
<text x="281.6" y="18.8" textLength="22.4" lengthAdjust="spacingAndGlyphs">2024</text>
<text x="308.0" y="18.8" textLength="27.3" lengthAdjust="spacingAndGlyphs">04:19</text>
<text x="340.2" y="18.8" textLength="18.5" lengthAdjust="spacingAndGlyphs">UTC</text>
</g>
<g font-size="11.2" fill="#131722" stroke="#131722" stroke-width="0.2">
<text x="17.6" y="43.9" textLength="19.5" lengthAdjust="spacingAndGlyphs">U.S.</text>
<text x="41.6" y="43.9" textLength="28.7" lengthAdjust="spacingAndGlyphs">Dollar</text>
<text x="75.9" y="43.9" textLength="3.2" lengthAdjust="spacingAndGlyphs">/</text>
<text x="84.0" y="43.9" textLength="45.3" lengthAdjust="spacingAndGlyphs">Canadian</text>
<text x="133.4" y="43.9" textLength="30.3" lengthAdjust="spacingAndGlyphs">Dollar,</text>
<text x="169.9" y="43.9" textLength="13.7" lengthAdjust="spacingAndGlyphs">4h,</text>
<text x="187.9" y="43.9" textLength="27.3" lengthAdjust="spacingAndGlyphs">FXCM</text>
<text x="222.0" y="43.9" textLength="6.8" lengthAdjust="spacingAndGlyphs">O</text>
<text x="275.7" y="43.9" textLength="6.6" lengthAdjust="spacingAndGlyphs">H</text>
<text x="329.4" y="43.9" textLength="5.0" lengthAdjust="spacingAndGlyphs">L</text>
<text x="380.5" y="43.9" textLength="6.3" lengthAdjust="spacingAndGlyphs">C</text>
</g>
<g font-size="11.2" fill="#f23645" stroke="#f23645" stroke-width="0.15">
<text x="229.8" y="43.9" textLength="38.5" lengthAdjust="spacingAndGlyphs">1.36889</text>
<text x="283.5" y="43.9" textLength="38.1" lengthAdjust="spacingAndGlyphs">1.36906</text>
<text x="335.3" y="43.9" textLength="38.7" lengthAdjust="spacingAndGlyphs">1.36788</text>
<text x="388.3" y="43.9" textLength="38.1" lengthAdjust="spacingAndGlyphs">1.36800</text>
<text x="434.2" y="43.9" textLength="44.0" lengthAdjust="spacingAndGlyphs">−0.00089</text>
<text x="483.0" y="43.9" textLength="41.5" lengthAdjust="spacingAndGlyphs">(−0.07%)</text>
</g>
<g font-size="11.2" fill="#131722" stroke="#131722" stroke-width="0.2">
<text x="17.6" y="59.2" textLength="13.9" lengthAdjust="spacingAndGlyphs">Vol</text>
</g>
<g font-size="11.2" fill="#f23645" stroke="#f23645" stroke-width="0.15">
<text x="40.0" y="59.2" textLength="31.9" lengthAdjust="spacingAndGlyphs">13.785</text>
<text x="74.2" y="59.2" textLength="6.3" lengthAdjust="spacingAndGlyphs">K</text>
</g>
<g fill="#131722"><path d="M9.7 621.8H17.2V630.75H13.3V625.7H9.7Z"/><circle cx="19.6" cy="623.75" r="1.85"/><path d="M23.5 621.8H27.75L24.65 630.75H20.5Z"/></g>
<text x="31.8" y="630.75" font-size="11.6" fill="#1e222d" stroke="#1e222d" stroke-width="0.15" textLength="64.5" lengthAdjust="spacingAndGlyphs">TradingView</text>
</svg></body></html>
